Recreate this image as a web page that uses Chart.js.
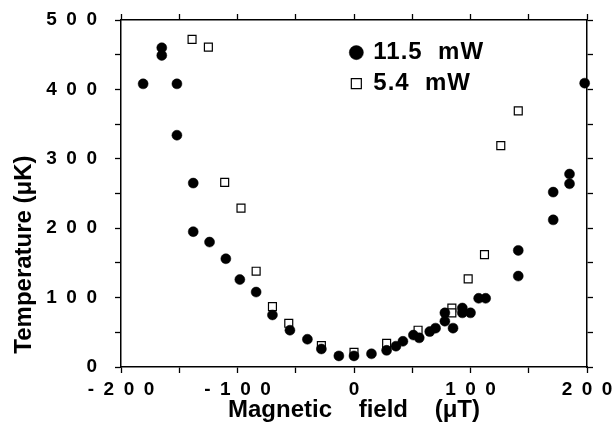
<!DOCTYPE html>
<html>
<head>
<meta charset="utf-8">
<script src="https://cdn.jsdelivr.net/npm/chart.js@4.4.0/dist/chart.umd.min.js"></script>
<style>
  html, body { margin: 0; padding: 0; background: #fff; }
  canvas { display: block; }
</style>
</head>
<body>
<canvas id="chart" width="614" height="437"></canvas>
<script>
// 11.5 mW series (filled circles)
const fieldHigh = [-181, -165, -165, -152, -152, -138, -138, -124, -110, -98, -84, -70, -55, -40, -28, -13, 0, 15, 28, 36,
                   42, 51, 56, 65, 70, 78, 78, 85, 93, 93, 100, 107, 113, 141, 141, 171, 171, 185, 185, 198];
const tempHigh  = [408, 460, 449, 408, 334, 265, 195, 180, 156, 126, 108, 75, 53, 40, 26, 16, 16, 19, 24, 30,
                   37, 46, 42, 51, 56, 66, 78, 56, 85, 78, 78, 99, 99, 168, 131, 212, 252, 278, 264, 409];

// 5.4 mW series (open squares)
const fieldLow = [-139, -125, -111, -97, -84, -70, -56, -28, 0, 28, 55, 84, 84, 98, 112, 126, 141];
const tempLow  = [472, 461, 266, 229, 138, 87, 63, 31, 21, 34, 53, 85, 78, 127, 162, 319, 369];

const seriesLabels = ['11.5  mW', '5.4  mW'];
const xRange = [-200, 200];
const yRange = [0, 500];
const tickStep = 50;
const labelStep = 100;
const legendAnchor = [2, 453];   // where the first legend marker sits, in data units

const FONT = "'Liberation Sans', Arial, Helvetica, sans-serif";
const BLACK = '#000';

const toPoints = (xs, ys) => xs.map((x, i) => ({ x: x, y: ys[i] }));
// the original tick labels are set with wide letter spacing
const spaced = (v) => String(v).split('').join('\u2002');
const tickLabel = (v) => (v % labelStep === 0 ? spaced(v) : '');

const frameGrid = {
    drawOnChartArea: false,
    drawTicks: true,
    tickLength: 6,
    tickWidth: 1.3,
    tickColor: BLACK,
    color: BLACK,
};
const frameBorder = { display: true, color: BLACK, width: 1.5 };

// fixed axis sizes so the plot box lands where the original one is
const fixSize = (w, h) => (s) => {
    if (w !== null) s.width = w;
    if (h !== null) s.height = h;
    s.paddingTop = 0;
    s.paddingBottom = 0;
    s.paddingLeft = 0;
    s.paddingRight = 0;
};

// put the legend inside the plot, up near the top middle
const legendMover = {
    id: 'legendMover',
    afterUpdate(chart) {
        const lg = chart.legend;
        if (!lg) return;
        const labels = lg.options.labels;
        const pad = labels.padding;
        const w = lg.width, h = lg.height;
        lg.left = chart.scales.x.getPixelForValue(legendAnchor[0]) - labels.boxWidth / 2 - pad;
        lg.top = chart.scales.y.getPixelForValue(legendAnchor[1]) - labels.font.size / 2 - pad;
        lg.right = lg.left + w;
        lg.bottom = lg.top + h;
        if (lg.adjustHitBoxes) lg.adjustHitBoxes();

        // slightly looser lettering for the legend text
        if (!lg._spacedDraw) {
            const origDraw = lg.draw;
            lg.draw = function (area) {
                const ctx = this.ctx;
                ctx.save();
                ctx.letterSpacing = '1px';
                origDraw.call(this, area);
                ctx.restore();
            };
            lg._spacedDraw = true;
        }
    }
};

Chart.defaults.color = BLACK;
Chart.defaults.font.family = FONT;

const chart = new Chart(document.getElementById('chart'), {
    type: 'scatter',
    data: {
        datasets: [
            {
                label: seriesLabels[0],
                data: toPoints(fieldHigh, tempHigh),
                pointStyle: 'circle',
                pointRadius: 5,
                backgroundColor: BLACK,
                borderColor: BLACK,
                borderWidth: 0.5,
                clip: false,
            },
            {
                label: seriesLabels[1],
                data: toPoints(fieldLow, tempLow),
                pointStyle: 'rect',
                pointRadius: 5.6,
                backgroundColor: '#fff',
                borderColor: BLACK,
                borderWidth: 1.2,
                clip: false,
            },
        ],
    },
    options: {
        responsive: false,
        devicePixelRatio: 1,
        animation: false,
        events: [],
        layout: { padding: 0 },
        plugins: {
            tooltip: { enabled: false },
            legend: {
                position: 'chartArea',
                align: 'start',
                labels: {
                    usePointStyle: true,
                    boxWidth: 10,
                    boxHeight: 10,
                    padding: 7,
                    color: BLACK,
                    font: { family: FONT, size: 24, weight: 'bold' },
                },
            },
        },
        scales: {
            x: {
                type: 'linear',
                position: 'bottom',
                min: xRange[0],
                max: xRange[1],
                grid: frameGrid,
                border: frameBorder,
                ticks: {
                    stepSize: tickStep,
                    autoSkip: false,
                    maxRotation: 0,
                    padding: 5,
                    color: BLACK,
                    font: { family: FONT, size: 19, weight: 'bold' },
                    callback: tickLabel,
                },
                title: {
                    display: true,
                    text: 'Magnetic    field    (μT)',
                    color: BLACK,
                    font: { family: FONT, size: 24, weight: 'bold' },
                    padding: { top: 0, bottom: 12 },
                },
                afterFit: fixSize(null, 70),
            },
            x2: {
                type: 'linear',
                position: 'top',
                min: xRange[0],
                max: xRange[1],
                grid: frameGrid,
                border: frameBorder,
                ticks: { display: false, stepSize: tickStep },
                afterFit: fixSize(null, 20),
            },
            y: {
                type: 'linear',
                position: 'left',
                min: yRange[0],
                max: yRange[1],
                grid: frameGrid,
                border: frameBorder,
                ticks: {
                    stepSize: tickStep,
                    autoSkip: false,
                    padding: 18,
                    color: BLACK,
                    font: { family: FONT, size: 19, weight: 'bold' },
                    callback: tickLabel,
                },
                title: {
                    display: true,
                    align: 'start',
                    text: '  Temperature (μK)',
                    color: BLACK,
                    font: { family: FONT, size: 24, weight: 'bold' },
                    padding: { top: 10, bottom: 0 },
                },
                afterFit: fixSize(121, null),
            },
            y2: {
                type: 'linear',
                position: 'right',
                min: yRange[0],
                max: yRange[1],
                grid: frameGrid,
                border: frameBorder,
                ticks: { display: false, stepSize: tickStep },
                afterFit: fixSize(27, null),
            },
        },
    },
    plugins: [legendMover],
});
</script>
</body>
</html>
